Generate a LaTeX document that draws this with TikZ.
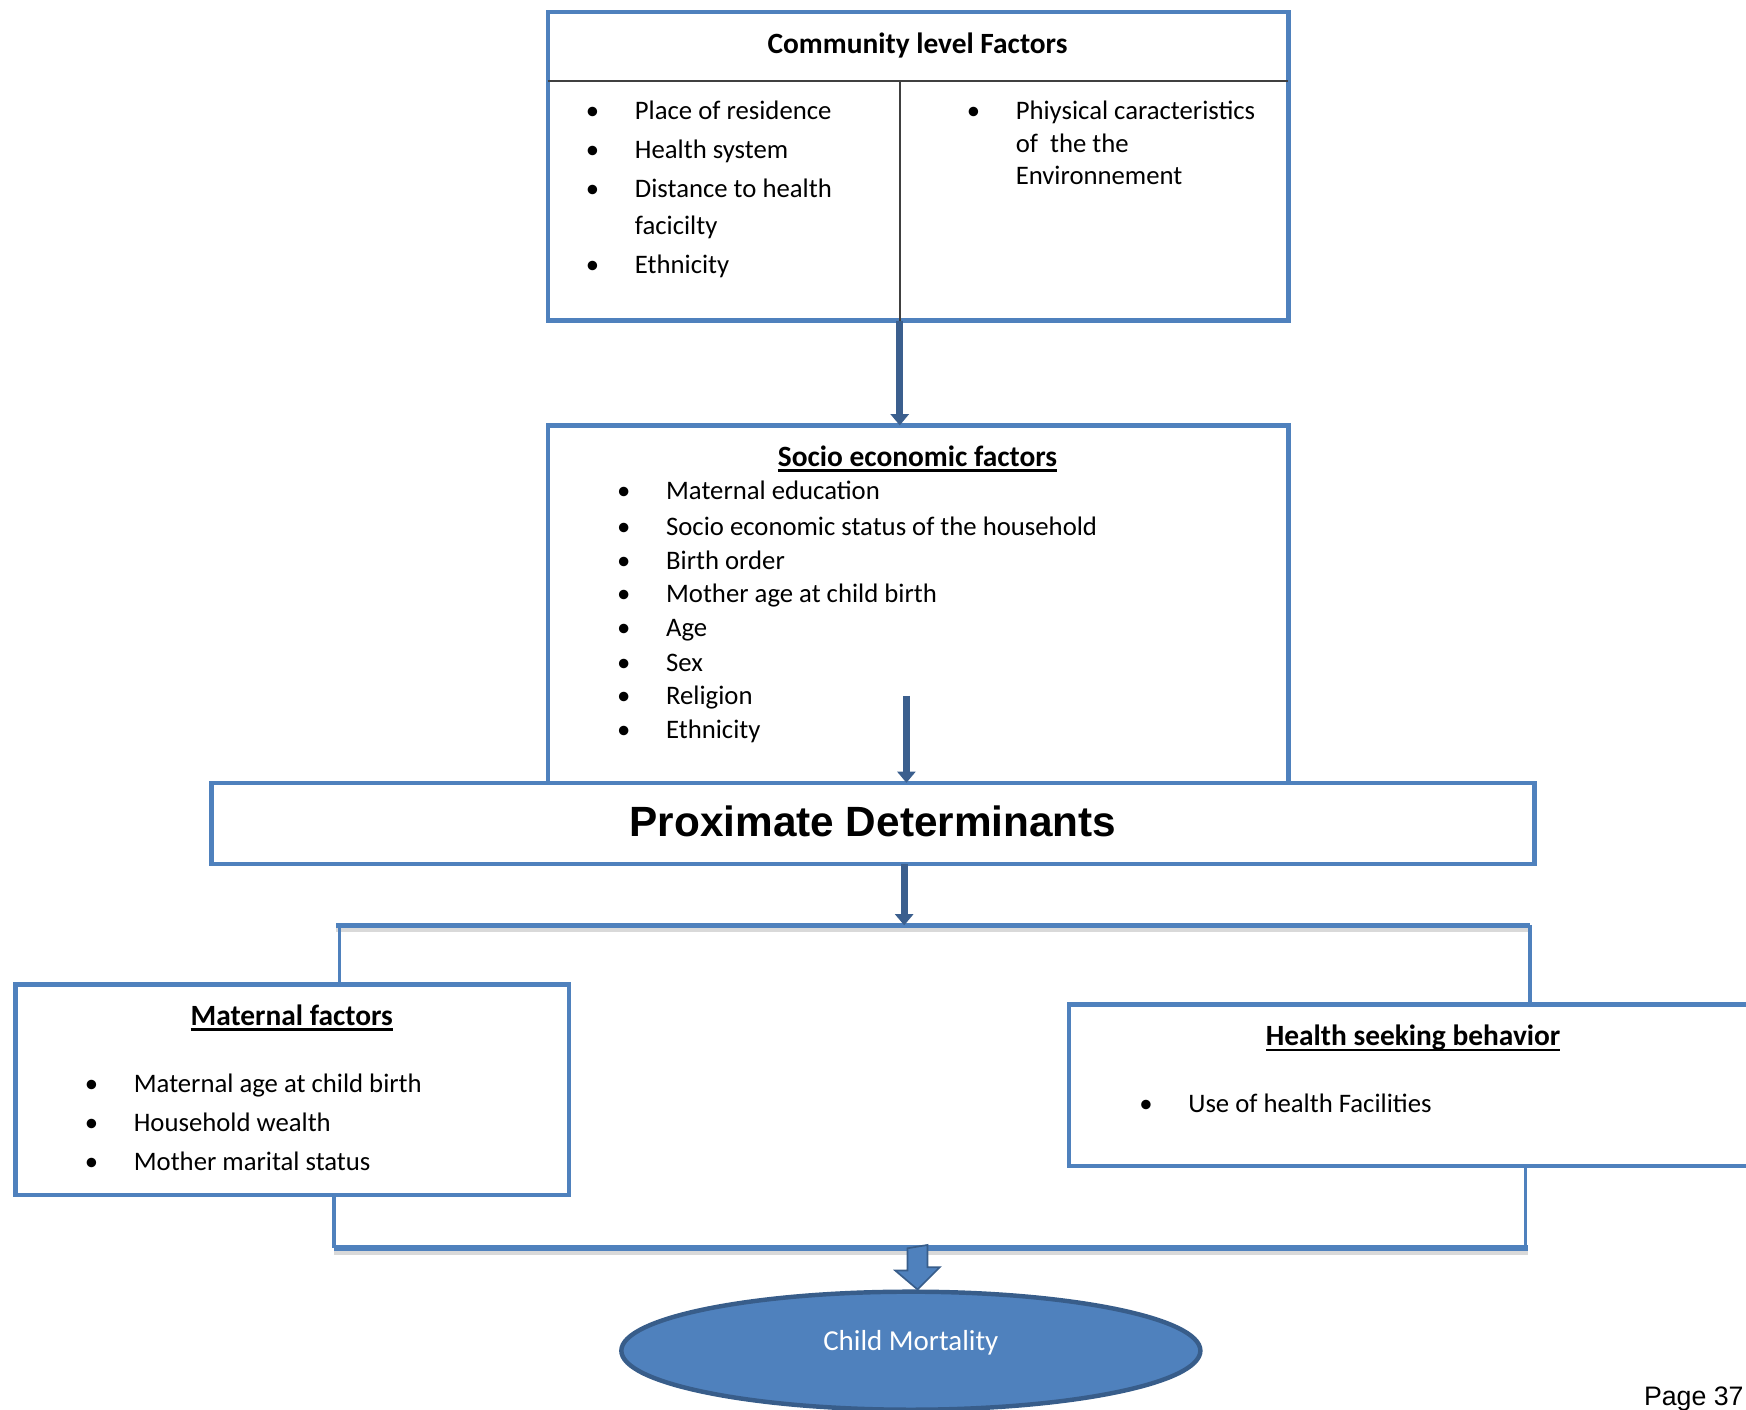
\documentclass[tikz,border=0pt]{standalone}
\usepackage{fontspec}
\setmainfont{Carlito}
\newfontfamily\arialfont{Liberation Sans}
\usetikzlibrary{arrows.meta,shapes.geometric}
\definecolor{boxblue}{HTML}{4F81BD}
\definecolor{arrowblue}{HTML}{3B5F8E}
\definecolor{rimblue}{HTML}{385D8A}
\tikzset{
  bluebox/.style={draw=boxblue, line width=4pt, fill=white, anchor=north west, inner sep=0pt, outer sep=0pt},
  item/.style={anchor=base west, inner sep=0pt, font=\fontsize{24}{29}\selectfont},
  heading/.style={anchor=base, inner sep=0pt, font=\fontsize{26.4}{31}\selectfont\bfseries},
  gridline/.style={draw=black!75, line width=1.5pt},
  thickarrow/.style={draw=arrowblue, line width=6pt, -{Triangle[width=16pt,length=10pt]}},
  linkline/.style={draw=boxblue, line width=3pt},
  barline/.style={draw=boxblue, line width=5pt},
  shadowline/.style={draw=black!15, line width=4pt},
}
\newcommand{\bul}{\makebox[44pt][l]{\textbullet}}
\newcommand{\uln}[1]{\setbox0\hbox{#1}\rlap{\rule[-5pt]{\wd0}{2.4pt}}\box0}
\begin{document}
\begin{tikzpicture}[x=1pt, y=-1pt]
  \useasboundingbox (0,0) rectangle (1568,1266);

  % Community level factors table
  \node[bluebox, minimum width=665pt, minimum height=277pt] (community) at (492,11) {};
  \node[heading] (community-title) at (824,48) {Community level Factors};
  \draw[gridline] ([yshift=-62pt]community.north west) -- ([yshift=-62pt]community.north east); % title row
  \coordinate (divtop) at (808,73);
  \coordinate (divbot) at (808,288);
  \draw[gridline] (divtop) -- (divbot); % column divider
  \foreach \y/\t [count=\i] in {107/Place of residence, 142/Health system, 177/Distance to health, 246/Ethnicity} {
    \node[item] (comm-left-\i) at (526,\y) {\bul\t};
  }
  \node[item] (comm-left-wrap) at (570,211) {facicilty};
  \node[item] (comm-right-1) at (868,107) {\bul Phiysical caracteristics};
  \node[item] (comm-right-2) at (912,137) {of\ \ the the};
  \node[item] (comm-right-3) at (912,166) {Environnement};

  % Socio economic factors
  \node[bluebox, minimum width=665pt, minimum height=321pt] (socio) at (492,382) {};
  \draw[thickarrow] (divbot) -- (divbot |- socio.north);
  \node[heading] (socio-title) at (824,419) {\uln{Socio economic factors}};
  \foreach \y/\t [count=\i] in {449/Maternal education, 481/Socio economic status of the household, 511/Birth order,
      541/Mother age at child birth, 572/Age, 603/Sex, 633/Religion, 663/Ethnicity} {
    \node[item] (socio-\i) at (554,\y) {\bul\t};
  }

  % Proximate determinants
  \node[bluebox, minimum width=1188pt, minimum height=73pt] (proximate) at (190,703) {};
  \node[anchor=base, inner sep=0pt, font=\arialfont\bfseries\fontsize{38}{44}\selectfont]
    (proximate-text) at (784,751) {Proximate Determinants};
  \coordinate (socio-arrow) at (814,625);
  \draw[thickarrow] (socio-arrow) -- (socio-arrow |- proximate.north);

  % Upper bar to the two boxes
  \node[bluebox, minimum width=497pt, minimum height=189pt] (maternal) at (14,884) {};
  \node[bluebox, minimum width=660pt, minimum height=145pt] (health) at (960,902) {};
  \coordinate (topbar-l) at (302,831);
  \coordinate (topbar-m) at (812,831);
  \coordinate (topbar-r) at (1374,831);
  \draw[shadowline] ([yshift=-4pt]topbar-l) -- ([yshift=-4pt]topbar-r); % soft shadow
  \draw[barline] (topbar-l) -- (topbar-r);
  \draw[linkline] (305,831) -- (305,884 |- maternal.north);
  \draw[linkline] (topbar-r) -- (topbar-r |- health.north);
  \draw[thickarrow] (topbar-m |- proximate.south) -- (topbar-m);

  % Maternal factors
  \node[heading] (maternal-title) at (262,921) {\uln{Maternal factors}};
  \foreach \y/\t [count=\i] in {981/Maternal age at child birth, 1016/Household wealth, 1051/Mother marital status} {
    \node[item] (maternal-\i) at (76,\y) {\bul\t};
  }

  % Health seeking behavior
  \node[heading] (health-title) at (1269,939) {\uln{Health seeking behavior}};
  \node[item] (health-1) at (1023,999) {\bul Use of health Facilities};

  % Lower bar to child mortality
  \coordinate (botbar-l) at (300,1121);
  \coordinate (botbar-m) at (824,1121);
  \coordinate (botbar-r) at (1372,1121);
  \draw[linkline] (botbar-l |- maternal.south) -- (botbar-l);
  \draw[linkline] (1370,1121 |- health.south) -- (1370,1121);
  \draw[shadowline] ([yshift=-4pt]botbar-l) -- ([yshift=-4pt]botbar-r); % soft shadow
  \draw[barline] (botbar-l) -- (botbar-r);

  \node[ellipse, draw=rimblue, line width=4pt, fill=boxblue, minimum width=520pt, minimum height=106pt,
        text=white, font=\fontsize{26}{31}\selectfont] (mortality) at (818,1213) {\smash{Child Mortality}};
  \filldraw[fill=boxblue, draw=rimblue, line width=1.5pt] (botbar-m) ++(-9,0) -- ++(0,20) -- ++(-11,0)
    -- (botbar-m |- mortality.north) -- ++(20,-20) -- ++(-11,0) -- ++(0,-20) -- cycle; % block arrow

  \node[anchor=base east, inner sep=0pt, font=\arialfont\fontsize{24}{29}\selectfont] (page) at (1566,1262) {Page 37};
\end{tikzpicture}
\end{document}
